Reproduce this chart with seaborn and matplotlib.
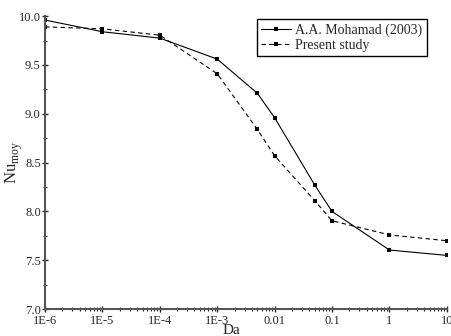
import numpy as np
import pandas as pd
import matplotlib
matplotlib.use("Agg")
import matplotlib.pyplot as plt
import seaborn as sns
from matplotlib.ticker import FixedLocator, FixedFormatter, LogLocator, MultipleLocator

da = [1e-6, 1e-5, 1e-4, 1e-3, 5e-3, 1e-2, 5e-2, 1e-1, 1, 10]
nu_mohamad = [9.96, 9.84, 9.775, 9.56, 9.21, 8.96, 8.27, 8.00, 7.605, 7.55]
nu_present = [9.89, 9.87, 9.805, 9.41, 8.84, 8.57, 8.11, 7.905, 7.76, 7.70]

xtick_vals = [1e-6, 1e-5, 1e-4, 1e-3, 1e-2, 1e-1, 1, 10]
xtick_labels = ['1E-6', '1E-5', '1E-4', '1E-3', '0.01', '0.1', '1', '10']

df = pd.DataFrame({
    'Da': da + da,
    'Nu': nu_mohamad + nu_present,
    'Source': ['A.A. Mohamad (2003)'] * len(da) + ['Present study'] * len(da),
})

sns.set_style("ticks")
plt.rcParams['font.family'] = ['Liberation Serif', 'DejaVu Serif']

fig = plt.figure(figsize=(4.52, 3.36), dpi=100)
ax = fig.add_axes([0.0996, 0.080, 0.889, 0.872])

sns.lineplot(data=df, x='Da', y='Nu', style='Source', color='black',
             markers=['s', 's'], dashes=[(None, None), (4, 3)],
             markersize=3, markeredgewidth=0, linewidth=0.8, ax=ax)

ax.set_xscale('log')
ax.set_xlim(1e-6, 10)
ax.set_ylim(7.0, 10.0)
ax.xaxis.set_major_locator(FixedLocator(xtick_vals))
ax.xaxis.set_major_formatter(FixedFormatter(xtick_labels))
ax.xaxis.set_minor_locator(LogLocator(base=10, subs=np.arange(2, 10)))
ax.yaxis.set_major_locator(MultipleLocator(0.5))
ax.yaxis.set_minor_locator(MultipleLocator(0.25))
ax.yaxis.set_major_formatter(matplotlib.ticker.FormatStrFormatter('%.1f'))

sns.despine(ax=ax)
for s in ['left', 'bottom']:
    ax.spines[s].set_linewidth(1.5)
    ax.spines[s].set_color('#555555')
ax.tick_params(which='major', direction='inout', length=5, width=1, labelsize=9, pad=0.5)
ax.tick_params(axis='x', which='major', pad=1.5)
ax.tick_params(which='minor', direction='inout', length=3, width=0.8)

ax.set_xlabel('Da', fontsize=11)
ax.xaxis.set_label_coords(0.465, -0.052)
ax.set_ylabel('Nu$_{\\mathregular{moy}}$', fontsize=12)
ax.yaxis.set_label_coords(-0.05, 0.5)

leg = ax.legend(loc='upper right', bbox_to_anchor=(0.95, 0.99), borderaxespad=0,
                fontsize=10, frameon=True, fancybox=False, edgecolor='black',
                framealpha=1, handlelength=2.2, borderpad=0.3, labelspacing=0.15,
                handletextpad=0.3, title=None)
leg.get_frame().set_linewidth(1)

fig.savefig('out.png', dpi=100)
